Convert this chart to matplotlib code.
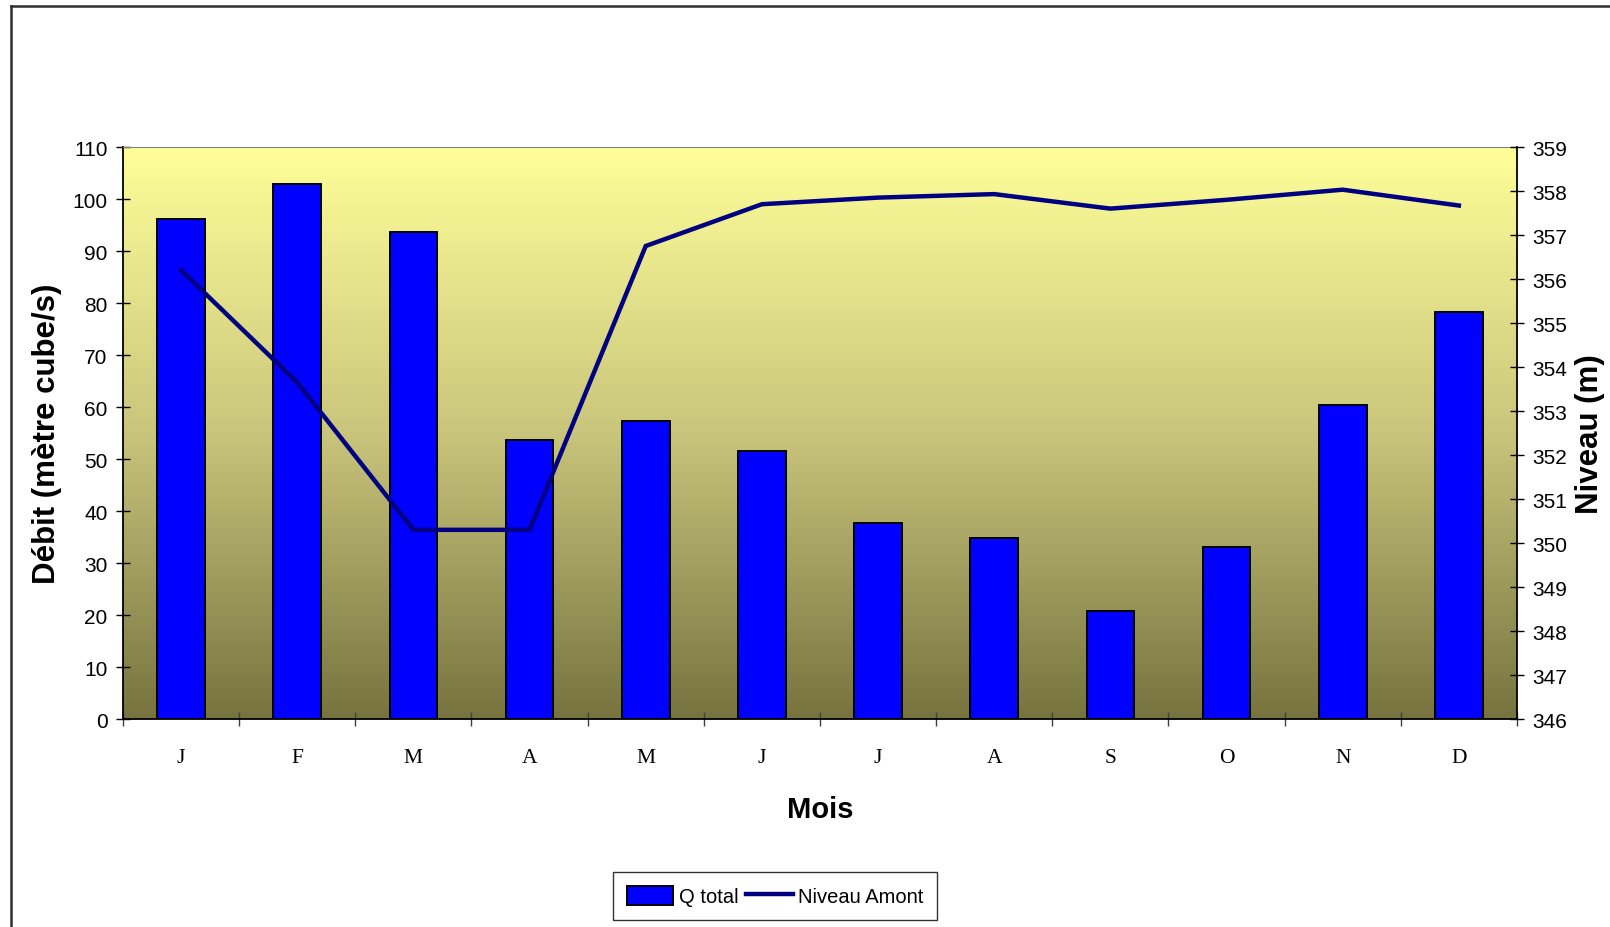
import numpy as np
import matplotlib
matplotlib.use("Agg")
import matplotlib.pyplot as plt
from matplotlib.colors import LinearSegmentedColormap
from matplotlib.lines import Line2D

# data
mois = ['J', 'F', 'M', 'A', 'M', 'J', 'J', 'A', 'S', 'O', 'N', 'D']
q_total = [96.2, 102.8, 93.7, 53.6, 57.3, 51.6, 37.7, 34.8, 20.7, 33.0, 60.3, 78.3]
niveau_amont = [356.2, 353.65, 350.3, 350.3, 356.75, 357.7, 357.85, 357.93, 357.6, 357.8, 358.03, 357.67]

sans = 'Liberation Sans'
x = np.arange(len(mois))

fig = plt.figure(figsize=(16.1, 9.28), dpi=100)
ax = fig.add_axes([0.0764, 0.2241, 0.8658, 0.6164])

# yellow -> olive gradient background
cmap = LinearSegmentedColormap.from_list('fond', ['#76733F', '#C9C57C', '#FFFF99'])
grad = np.linspace(0, 1, 256).reshape(-1, 1)
ax.imshow(grad, cmap=cmap, aspect='auto', extent=[0, 1, 0, 1], origin='lower',
          transform=ax.transAxes, zorder=0)
ax.patch.set_visible(False)

ax.bar(x, q_total, width=0.41, color='#0000FF', edgecolor='black', linewidth=1.4,
       zorder=2, label='Q total')
ax.set_xlim(-0.5, 11.5)
ax.set_ylim(0, 110)
ax.set_yticks(np.arange(0, 111, 10))
ax.set_xticks(np.arange(-0.5, 12, 1))
ax.set_xticklabels([])
ax.set_xticks(x, minor=True)
ax.set_xticklabels(mois, minor=True, family='Liberation Serif', fontsize=15.5)
ax.tick_params(axis='x', which='major', direction='inout', length=10, width=1, color='#404040')
ax.tick_params(axis='x', which='minor', length=0, pad=21)
ax.tick_params(axis='y', direction='inout', length=10, width=1, pad=6)
for lab in ax.get_yticklabels():
    lab.set_family(sans)
    lab.set_fontsize(15)

ax.set_ylabel('Débit (mètre cube/s)', family=sans, fontweight='bold', fontsize=22.5)
ax.yaxis.set_label_coords(-0.0438, 0.5)
ax.set_xlabel('Mois', family=sans, fontweight='bold', fontsize=21)
ax.xaxis.set_label_coords(0.5, -0.133)

ax.spines['top'].set_color('#808080')
ax.spines['right'].set_visible(False)
ax.spines['left'].set_linewidth(1.3)
ax.spines['bottom'].set_linewidth(1.3)

ax2 = ax.twinx()
ax2.plot(x, niveau_amont, color='#000080', linewidth=3.2, label='Niveau Amont',
         solid_joinstyle='miter', zorder=3)
ax2.set_ylim(346, 359)
ax2.set_yticks(np.arange(346, 360, 1))
ax2.tick_params(axis='y', direction='inout', length=10, width=1, pad=6)
for lab in ax2.get_yticklabels():
    lab.set_family(sans)
    lab.set_fontsize(15)
ax2.set_ylabel('Niveau (m)', family=sans, fontweight='bold', fontsize=22.5)
ax2.yaxis.set_label_coords(1.0416, 0.5)
for side in ['top', 'left', 'bottom']:
    ax2.spines[side].set_visible(False)
ax2.spines['right'].set_linewidth(1.3)

# legend under the chart
h1, l1 = ax.get_legend_handles_labels()
h2, l2 = ax2.get_legend_handles_labels()
leg = fig.legend(h1 + h2, l1 + l2, loc='center', bbox_to_anchor=(0.4814, 0.0335),
                 ncol=2, frameon=True, fancybox=False, edgecolor='black',
                 prop={'family': sans, 'size': 14.5}, handlelength=2.3, handleheight=1.1,
                 handletextpad=0.25, columnspacing=0.4, borderpad=0.7, borderaxespad=0)
leg.get_frame().set_linewidth(1.0)

# chart area border (left and top only visible)
fig.add_artist(Line2D([0.0068, 0.0068], [0.0, 0.9925], transform=fig.transFigure,
                      color='#303030', linewidth=1.8))
fig.add_artist(Line2D([0.0068, 1.0], [0.9925, 0.9925], transform=fig.transFigure,
                      color='#303030', linewidth=1.8))

fig.savefig('out.png', dpi=100)
